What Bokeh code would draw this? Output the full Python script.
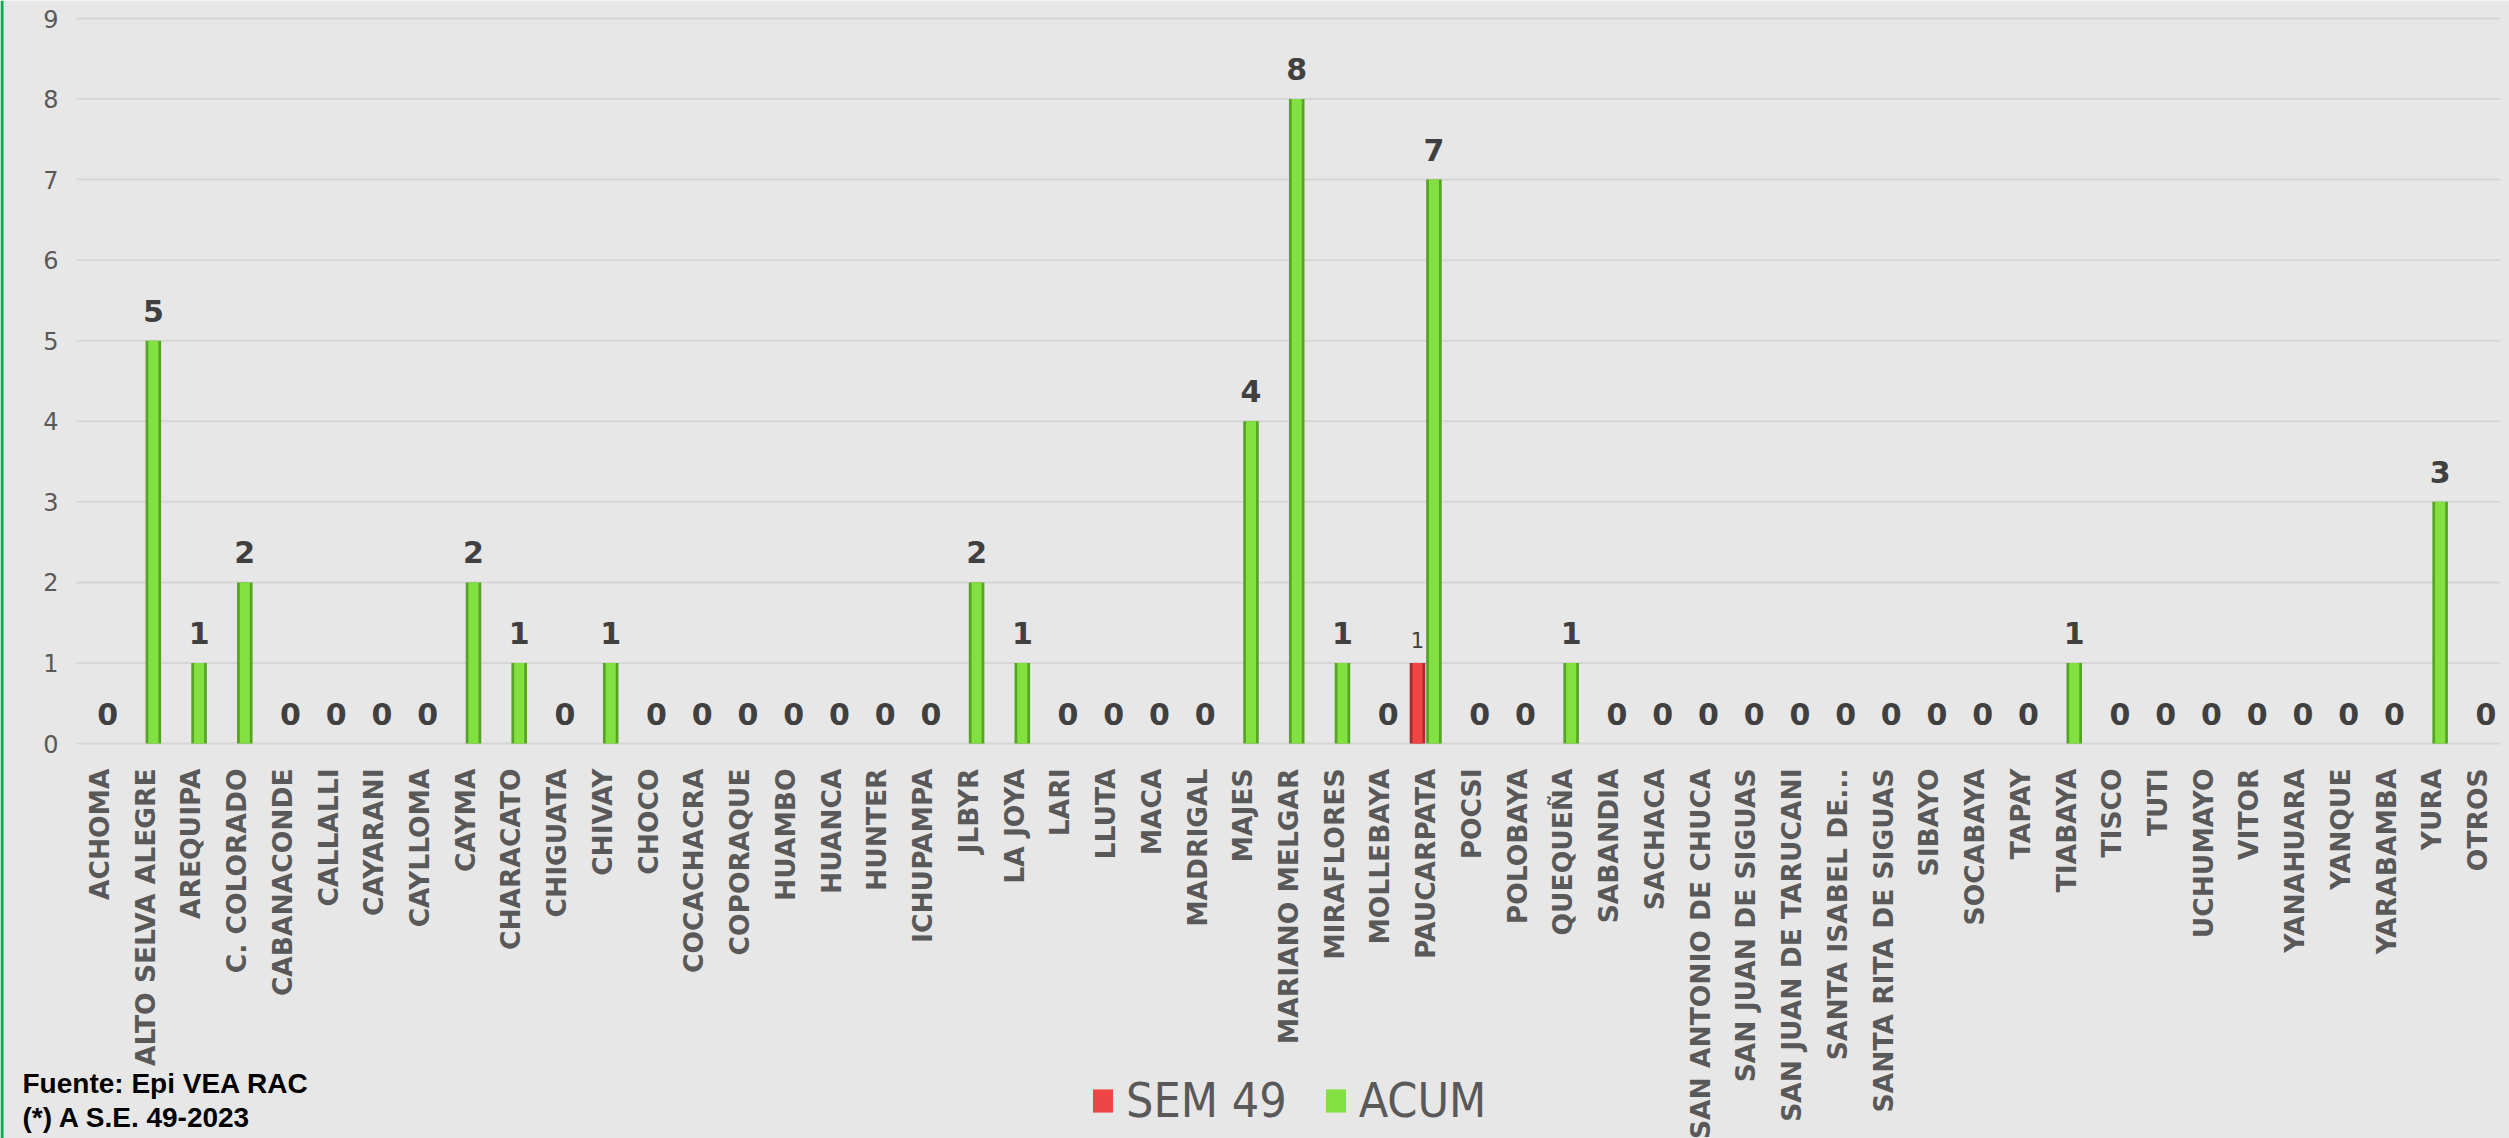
import math
from bokeh.plotting import figure
from bokeh.models import (Range1d, ColumnDataSource, FixedTicker, Legend, LegendItem,
                          Label, BoxAnnotation)
from bokeh.transform import dodge
from bokeh.core.properties import value
from bokeh.embed import file_html
from bokeh.resources import INLINE

categories = ["ACHOMA", "ALTO SELVA ALEGRE", "AREQUIPA", "C. COLORADO", "CABANACONDE",
              "CALLALLI", "CAYARANI", "CAYLLOMA", "CAYMA", "CHARACATO", "CHIGUATA",
              "CHIVAY", "CHOCO", "COCACHACRA", "COPORAQUE", "HUAMBO", "HUANCA", "HUNTER",
              "ICHUPAMPA", "JLBYR", "LA JOYA", "LARI", "LLUTA", "MACA", "MADRIGAL",
              "MAJES", "MARIANO MELGAR", "MIRAFLORES", "MOLLEBAYA", "PAUCARPATA", "POCSI",
              "POLOBAYA", "QUEQUEÑA", "SABANDIA", "SACHACA", "SAN ANTONIO DE CHUCA",
              "SAN JUAN DE SIGUAS", "SAN JUAN DE TARUCANI", "SANTA ISABEL DE...",
              "SANTA RITA DE SIGUAS", "SIBAYO", "SOCABAYA", "TAPAY", "TIABAYA", "TISCO",
              "TUTI", "UCHUMAYO", "VITOR", "YANAHUARA", "YANQUE", "YARABAMBA", "YURA",
              "OTROS"]

sem49 = [0, 0, 0, 0, 0, 0, 0, 0, 0, 0, 0, 0, 0, 0, 0, 0, 0, 0, 0, 0, 0, 0, 0, 0, 0,
         0, 0, 0, 0, 1, 0, 0, 0, 0, 0, 0, 0, 0, 0, 0, 0, 0, 0, 0, 0, 0, 0, 0, 0, 0,
         0, 0, 0]

acum = [0, 5, 1, 2, 0, 0, 0, 0, 2, 1, 0, 1, 0, 0, 0, 0, 0, 0, 0, 2, 1, 0, 0, 0, 0,
        4, 8, 1, 0, 7, 0, 0, 1, 0, 0, 0, 0, 0, 0, 0, 0, 0, 0, 1, 0, 0, 0, 0, 0, 0,
        0, 3, 0]

y_ticks = [0, 1, 2, 3, 4, 5, 6, 7, 8, 9]

series_names = ["SEM 49", "ACUM"]
footnotes = ["Fuente: Epi VEA RAC", "(*) A S.E. 49-2023"]

n = len(categories)
pos = list(range(n))  # category slots

src = ColumnDataSource(dict(
    x=pos,
    sem=sem49,
    acum=acum,
    sem_lbl=[str(v) if v else "" for v in sem49],
    acum_lbl=[str(v) for v in acum],
))

W, H = 2509, 1138
left_px, right_px, top_px, bottom_px = 76, 2500, 18, 743
cat_px = (right_px - left_px) / n
unit_px = (bottom_px - top_px) / 9.0

x_range = Range1d(-0.5 - left_px / cat_px, n - 0.5 + (W - right_px) / cat_px)
y_range = Range1d(-(H - bottom_px) / unit_px, 9 + top_px / unit_px)

p = figure(x_range=x_range, y_range=y_range, width=W, height=H,
           output_backend="svg", toolbar_location=None,
           min_border_left=0, min_border_right=0, min_border_top=0, min_border_bottom=0)

BG = "#e7e7e7"
p.background_fill_color = BG
p.border_fill_color = BG
p.outline_line_color = None
p.xgrid.visible = False
p.ygrid.visible = False

# green strip on the left edge of the picture
p.add_layout(BoxAnnotation(left=0, right=3, left_units="screen", right_units="screen",
                           fill_color="#00b050", fill_alpha=1, line_color=None))

# horizontal gridlines spanning the category area only
p.segment(x0=-0.5, x1=n - 0.5, y0=y_ticks, y1=y_ticks, line_color="#d6d6d6", line_width=2)

# bars: outer edge + inner bright face for a bevel look
off = 0.18
p.vbar(x=dodge("x", -off), top="sem", width=0.34, source=src,
       fill_color="#a82c2c", line_color=None)
r_sem = p.vbar(x=dodge("x", -off), top="sem", width=0.22, source=src,
               fill_color="#f04545", line_color=None)
p.vbar(x=dodge("x", off), top="acum", width=0.34, source=src,
       fill_color="#56a423", line_color=None)
r_acum = p.vbar(x=dodge("x", off), top="acum", width=0.22, source=src,
                fill_color="#82e040", line_color=None)

# value labels
p.text(x=dodge("x", off), y="acum", text="acum_lbl", source=src,
       y_offset=-30, text_align="center", text_baseline="alphabetic",
       text_font=value("DejaVu Sans"), text_font_style="bold",
       text_font_size="30px", text_color="#404040")
p.text(x=dodge("x", -off), y="sem", text="sem_lbl", source=src,
       y_offset=-23, text_align="center", text_baseline="alphabetic",
       text_font=value("DejaVu Sans"), text_font_size="21px", text_color="#404040")

# y axis drawn at the left edge of the category area
p.yaxis.fixed_location = -0.5
p.yaxis.ticker = FixedTicker(ticks=y_ticks)
p.yaxis.axis_line_color = None
p.yaxis.major_tick_line_color = None
p.yaxis.minor_tick_line_color = None
p.yaxis.major_label_standoff = 12
p.yaxis.major_label_text_font = "DejaVu Sans"
p.yaxis.major_label_text_font_size = "24px"
p.yaxis.major_label_text_color = "#595959"

# x axis with category names at y = 0
p.xaxis.fixed_location = 0
p.xaxis.ticker = FixedTicker(ticks=pos, minor_ticks=[])
p.xaxis.major_label_overrides = {i: c for i, c in zip(pos, categories)}
p.xaxis.axis_line_color = None
p.xaxis.major_tick_line_color = None
p.xaxis.minor_tick_line_color = None
p.xaxis.major_label_orientation = math.pi / 2
p.xaxis.major_label_standoff = 19
p.xaxis.major_label_text_font = "DejaVu Sans"
p.xaxis.major_label_text_font_style = "bold"
p.xaxis.major_label_text_font_size = "26.5px"
p.xaxis.major_label_text_color = "#595959"

legend = Legend(items=[LegendItem(label=series_names[0], renderers=[r_sem]),
                       LegendItem(label=series_names[1], renderers=[r_acum])],
                orientation="horizontal", location=(1090, 10),
                label_text_font="DejaVu Sans Condensed",
                label_text_font_size="48px",
                label_text_color="#595959", glyph_width=25, glyph_height=29,
                label_standoff=11, spacing=36, padding=0, margin=0,
                border_line_color=None, background_fill_alpha=0)
p.add_layout(legend)

for txt, yy in zip(footnotes, [55, 21]):
    p.add_layout(Label(x=22, y=yy, x_units="screen", y_units="screen", text=txt,
                       text_font="Liberation Sans", text_font_style="bold",
                       text_font_size="28px", text_color="black",
                       text_baseline="alphabetic"))

html = file_html(p, INLINE)
html = html.replace("<body>", '<body style="background-color:#e7e7e7;">', 1)
open("out.html", "w").write(html)
